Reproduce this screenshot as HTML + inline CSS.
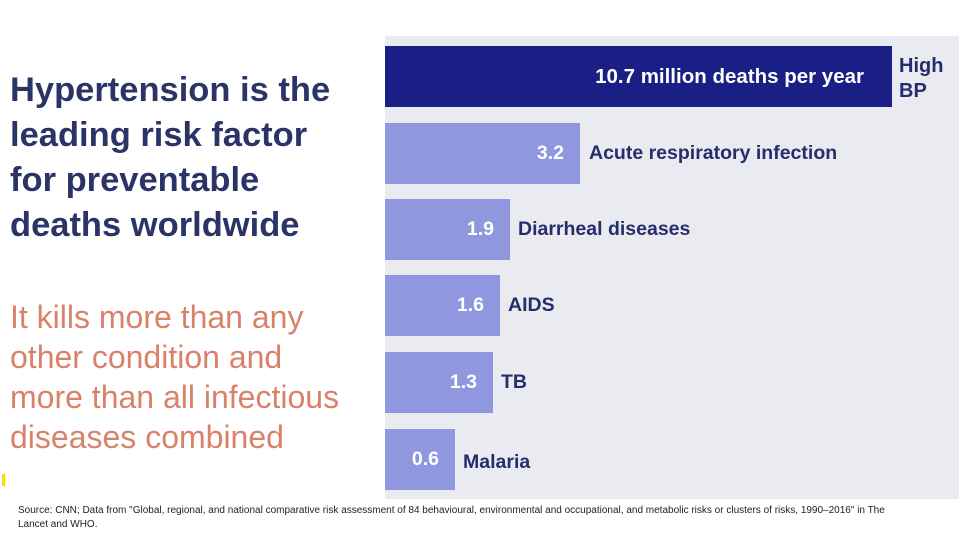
<!DOCTYPE html>
<html><head><meta charset="utf-8"><style>
body{margin:0;width:959px;height:537px;background:#fff;position:relative;overflow:hidden;font-family:"Liberation Sans",sans-serif}
.panel{position:absolute;left:385px;top:36px;width:574px;height:463px;background:#e9ebf1}
.bar{position:absolute;left:385px;height:61px;background:#8f98df;color:#fff;font-size:19.5px;font-weight:bold;display:flex;align-items:center;justify-content:flex-end;box-sizing:border-box;padding-right:16px}
.lab{position:absolute;color:#262d6b;font-size:19.5px;font-weight:bold;line-height:22px}
.h{position:absolute;left:10px;color:#2b3466;font-size:34.5px;font-weight:bold;line-height:45px;top:68px}
.o{position:absolute;left:10px;color:#d9826a;font-size:32px;line-height:40px;top:297px}
.src{position:absolute;left:18px;top:504px;font-size:10px;line-height:14px;color:#222;width:905px}
</style></head><body>
<div class="panel"></div>
<div class="bar" style="top:46px;width:507px;background:#1a1f86;padding-right:28px;font-size:20.5px">10.7 million deaths per year</div>
<div class="lab" style="left:899px;top:54px;line-height:25px;font-size:20px">High<br>BP</div>
<div class="bar" style="top:123px;width:195px">3.2</div>
<div class="lab" style="left:589px;top:142px">Acute respiratory infection</div>
<div class="bar" style="top:199px;width:125px">1.9</div>
<div class="lab" style="left:518px;top:218px">Diarrheal diseases</div>
<div class="bar" style="top:275px;width:115px">1.6</div>
<div class="lab" style="left:508px;top:294px">AIDS</div>
<div class="bar" style="top:352px;width:108px">1.3</div>
<div class="lab" style="left:501px;top:371px">TB</div>
<div class="bar" style="top:429px;width:70px">0.6</div>
<div class="lab" style="left:463px;top:451px">Malaria</div>
<div class="h">Hypertension is the<br>leading risk factor<br>for preventable<br>deaths worldwide</div>
<div class="o">It kills more than any<br>other condition and<br>more than all infectious<br>diseases combined</div>
<div style="position:absolute;left:2px;top:474px;width:3px;height:12px;background:#f5e400"></div>
<div class="src">Source: CNN; Data from "Global, regional, and national comparative risk assessment of 84 behavioural, environmental and occupational, and metabolic risks or clusters of risks, 1990–2016" in The<br>Lancet and WHO.</div>
</body></html>
